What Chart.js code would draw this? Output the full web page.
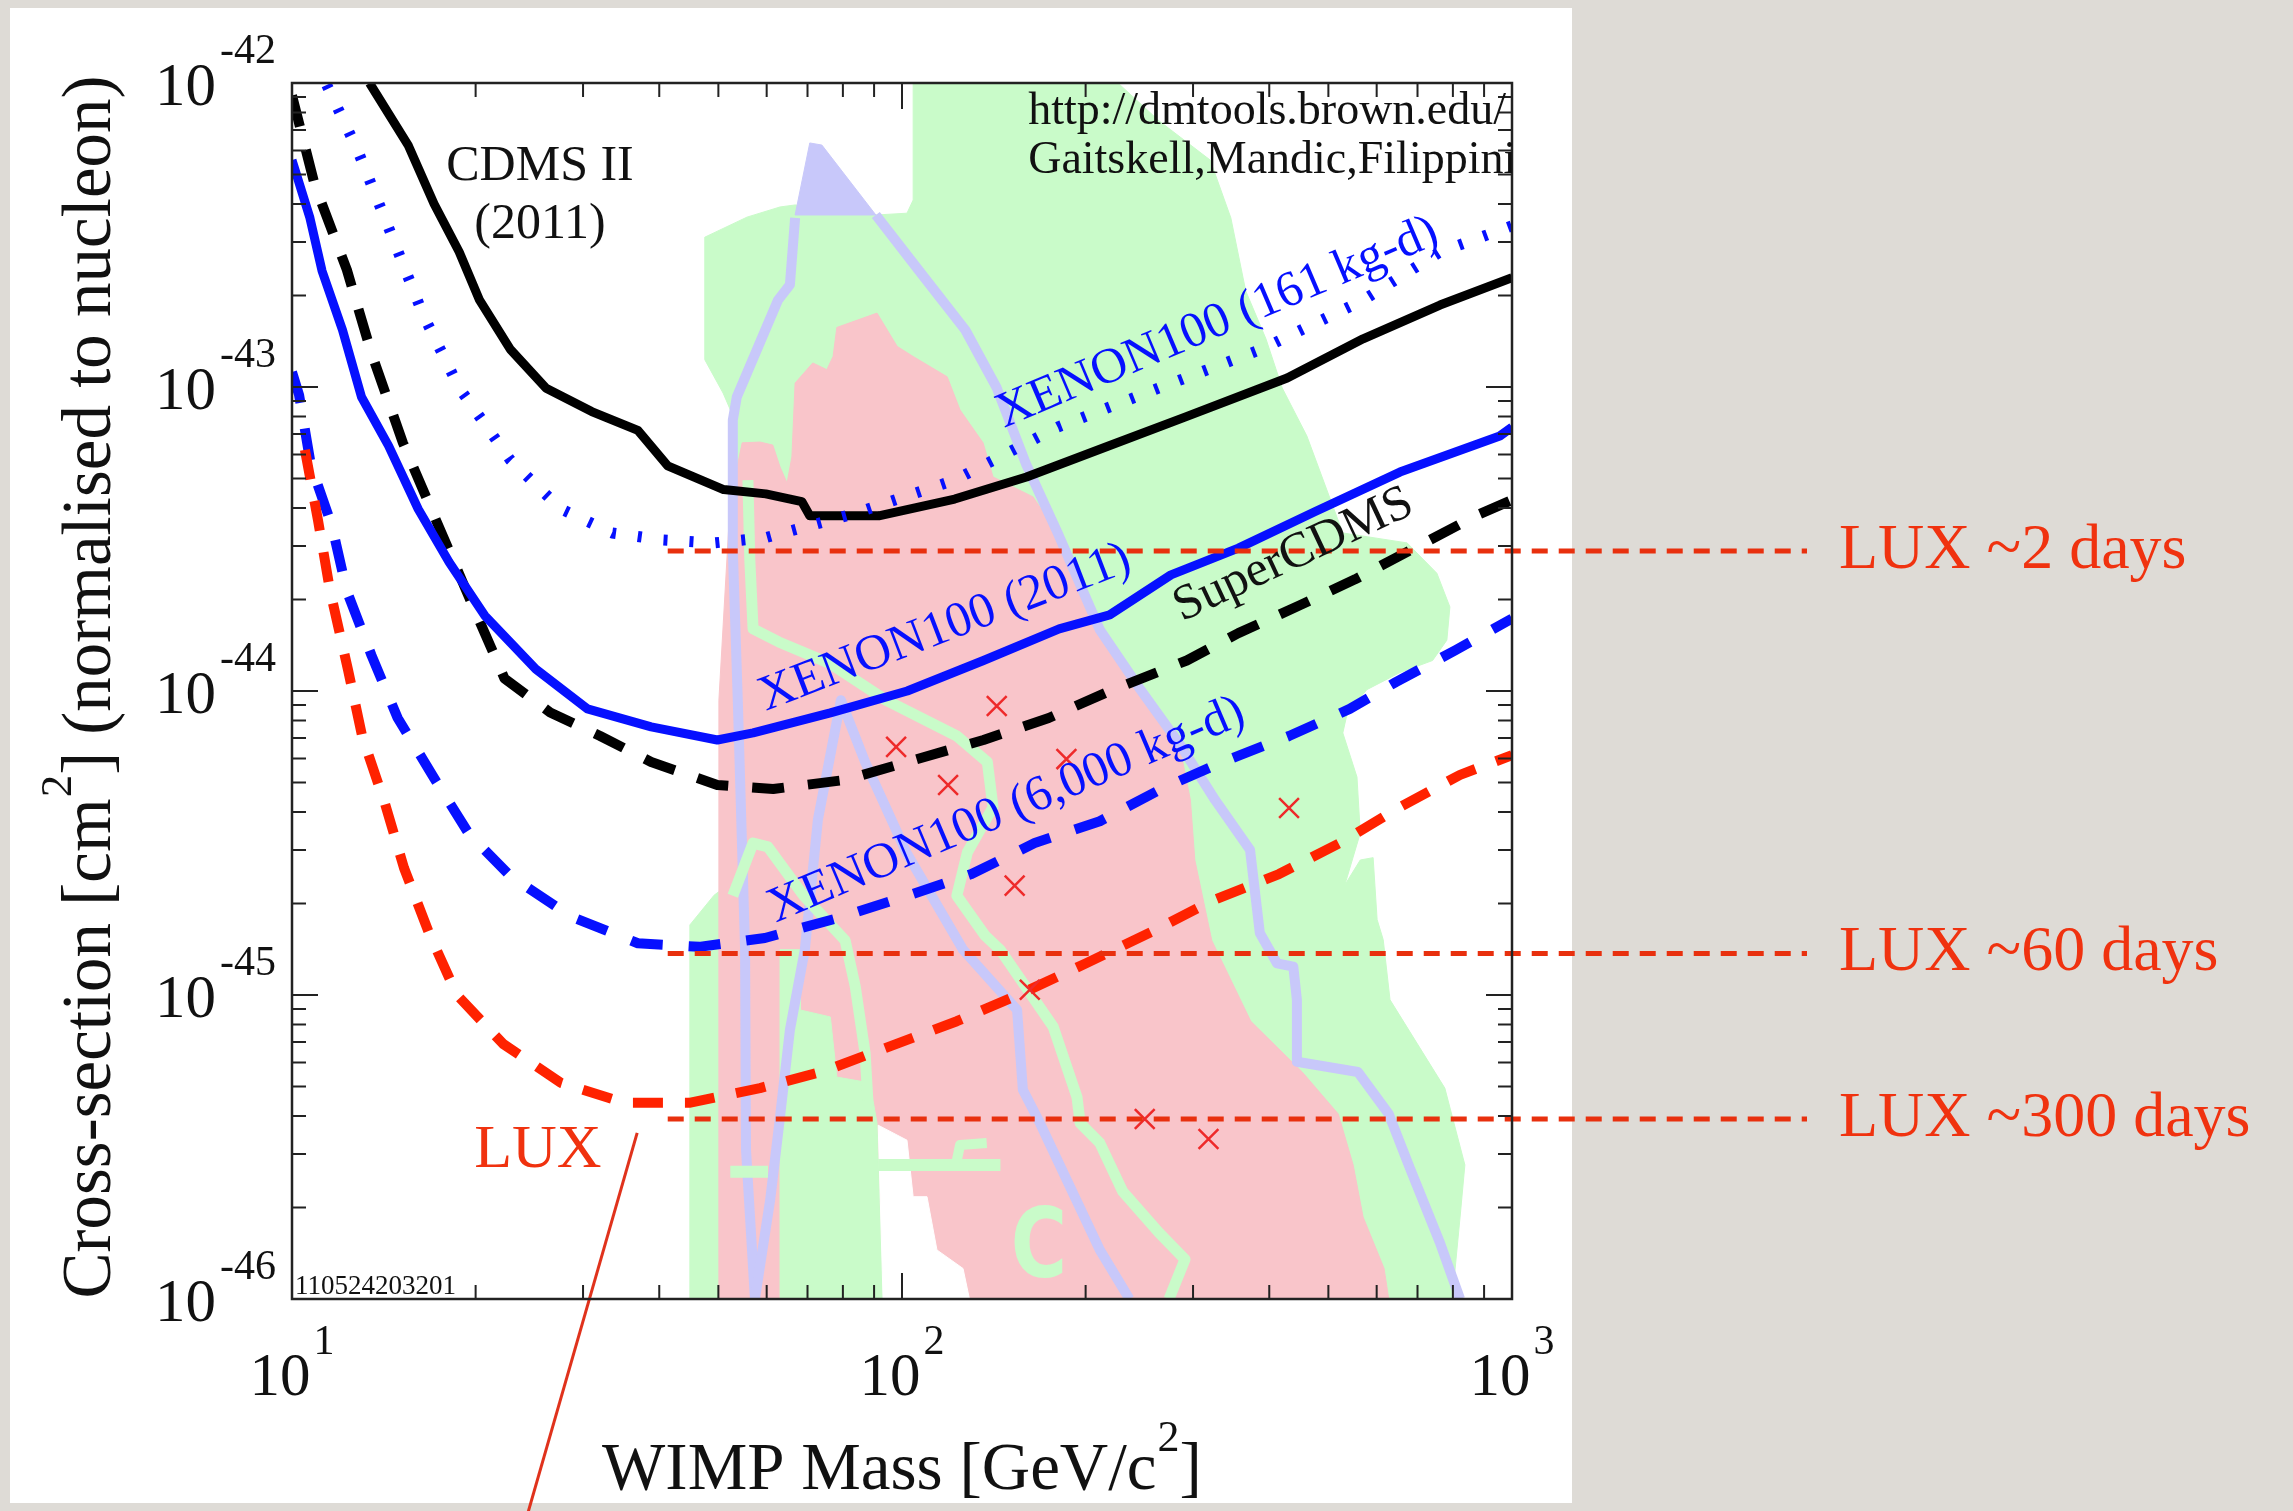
<!DOCTYPE html>
<html>
<head>
<meta charset="utf-8">
<title>WIMP limits</title>
<script src="https://cdn.jsdelivr.net/npm/chart.js@4.4.1/dist/chart.umd.min.js"></script>
<style>
    html, body {margin: 0; padding: 0; background: #dedbd6;}
    canvas {display: block;}
</style>
</head>
<body>
<canvas id="limits" width="2293" height="1511"></canvas>
<script>
// masses in GeV/c^2, cross-sections in cm^2

// CDMS II (2011) - black solid
var cdmsMass = [13.4, 15.5, 17.1, 18.8, 20.3, 22.8, 26.1, 31.0, 36.9, 41.3, 51.0, 59.8, 68.5, 70.6, 91.6, 122, 160, 218, 291, 428, 570, 762, 1000];
var cdmsSigma = [1e-42, 6.25e-43, 4.0e-43, 2.78e-43, 1.93e-43, 1.33e-43, 9.9e-44, 8.3e-44, 7.2e-44, 5.5e-44, 4.6e-44, 4.45e-44, 4.2e-44, 3.77e-44, 3.77e-44, 4.28e-44, 5.06e-44, 6.4e-44, 7.96e-44, 1.07e-43, 1.44e-43, 1.86e-43, 2.29e-43];

// XENON100 (161 kg-d) - blue dotted
var x161Mass = [11.4, 12.8, 14.4, 16.4, 18.8, 22.8, 27.6, 33.5, 40.6, 49.2, 59.6, 83.1, 122, 180, 264, 388, 570, 762, 1000];
var x161Sigma = [9.85e-43, 6.03e-43, 3.34e-43, 1.73e-43, 9.93e-44, 5.75e-44, 3.97e-44, 3.31e-44, 3.14e-44, 3.07e-44, 3.19e-44, 3.82e-44, 4.94e-44, 7.38e-44, 9.93e-44, 1.33e-43, 1.93e-43, 2.78e-43, 3.39e-43];

// SuperCDMS - black dashed
var scdmsMass = [10, 10.9, 12.3, 13.5, 15.2, 17.1, 19.5, 22.3, 26.5, 32.0, 38.8, 49.8, 61.5, 80.8, 102, 136, 174, 219, 293, 356, 448, 553, 877, 1000];
var scdmsSigma = [9.1e-43, 4.61e-43, 2.43e-43, 1.29e-43, 6.55e-44, 3.77e-44, 2.04e-44, 1.1e-44, 8.5e-45, 7.11e-45, 5.84e-45, 4.91e-45, 4.76e-45, 5.1e-45, 5.84e-45, 6.9e-45, 8.15e-45, 1.0e-44, 1.26e-44, 1.55e-44, 1.91e-44, 2.33e-44, 3.79e-44, 4.25e-44];

// XENON100 (2011) - blue solid
var x2011Mass = [10, 10.7, 11.2, 12.1, 13.0, 14.4, 16.1, 18.1, 20.7, 25.1, 30.5, 38.8, 49.8, 57.0, 76.3, 102, 136, 181, 219, 276, 356, 474, 655, 955, 1000];
var x2011Sigma = [5.58e-43, 3.6e-43, 2.41e-43, 1.54e-43, 9.27e-44, 6.4e-44, 3.97e-44, 2.65e-44, 1.77e-44, 1.18e-44, 8.73e-45, 7.62e-45, 6.9e-45, 7.28e-45, 8.47e-45, 1.0e-44, 1.26e-44, 1.6e-44, 1.78e-44, 2.41e-44, 2.95e-44, 3.88e-44, 5.25e-44, 6.9e-44, 7.38e-44];

// XENON100 (6,000 kg-d) - blue dashed
var x6000Mass = [10, 10.27, 10.74, 11.63, 12.3, 13.5, 14.9, 17.1, 19.5, 22.8, 28.7, 36.9, 46.5, 59.6, 77.6, 102, 130, 165, 211, 266, 335, 431, 542, 645, 807, 1000];
var x6000Sigma = [1.12e-43, 9.42e-44, 5.53e-44, 3.49e-44, 2.13e-44, 1.31e-44, 8.15e-45, 5.17e-45, 3.39e-45, 2.46e-45, 1.81e-45, 1.48e-45, 1.44e-45, 1.54e-45, 1.78e-45, 2.12e-45, 2.50e-45, 3.16e-45, 3.73e-45, 4.76e-45, 5.84e-45, 7.11e-45, 8.73e-45, 1.07e-44, 1.36e-44, 1.73e-44];

// LUX projection - red dashed
var luxMass = [10.5, 11.03, 11.54, 12.36, 13.03, 14.21, 15.26, 16.77, 18.64, 22.2, 27.6, 35.1, 44.8, 58.5, 74.5, 94.1, 123, 155, 200, 256, 322, 415, 522, 655, 822, 1000];
var luxSigma = [6.21e-44, 3.65e-44, 2.15e-44, 1.17e-44, 7.11e-45, 4.25e-45, 2.62e-45, 1.60e-45, 1.0e-45, 6.9e-46, 5.14e-46, 4.42e-46, 4.42e-46, 4.94e-46, 5.62e-46, 6.7e-46, 8.2e-46, 1.0e-45, 1.27e-45, 1.61e-45, 2.04e-45, 2.50e-45, 3.16e-45, 4.15e-45, 5.30e-45, 6.15e-45];

// model points (red crosses)
var modelMass = [143, 97.8, 119, 186, 153, 162, 431, 250, 318];
var modelSigma = [8.93e-45, 6.55e-45, 4.91e-45, 5.97e-45, 2.29e-45, 1.04e-45, 4.12e-45, 3.91e-46, 3.36e-46];

// LUX exposure levels
var luxLevelSigma = [2.89e-44, 1.37e-45, 3.91e-46];
var luxLevelText = ['LUX ~2 days', 'LUX ~60 days', 'LUX ~300 days'];
var luxLevelMass = [41.3, 3045];

// pointer under the LUX label
var pointerMass = [36.8, 24.4];
var pointerSigma = [3.52e-46, 2.0e-47];

// theory regions
var greenMass = [44.9, 44.9, 49.2, 53.2, 53.2, 50.9, 47.5, 47.5, 55.7, 63.1, 66.8, 91.0, 101.9, 104.3, 104.3, 226, 264, 320, 346, 366, 395, 420, 461, 528, 673, 753, 791, 782, 741, 655, 578, 537, 528, 557, 564, 532, 564, 592, 601, 615, 631, 776, 837, 822, 798];
var greenSigma = [1e-46, 1.70e-45, 2.13e-45, 2.39e-45, 7.78e-44, 9.55e-44, 1.23e-43, 3.11e-43, 3.62e-43, 3.91e-43, 3.97e-43, 3.68e-43, 3.73e-43, 4.12e-43, 1e-42, 1e-42, 7.5e-43, 5.58e-43, 3.6e-43, 2.07e-43, 1.44e-43, 9.93e-44, 6.9e-44, 3.31e-44, 3.07e-44, 2.44e-44, 1.89e-44, 1.47e-44, 1.26e-44, 1.15e-44, 1.01e-44, 8.47e-45, 7.28e-45, 5.21e-45, 3.41e-45, 2.30e-45, 2.78e-45, 2.83e-45, 1.77e-45, 1.52e-45, 9.64e-46, 4.94e-46, 2.76e-46, 1.86e-46, 1e-46];

var pinkMass = [50.1, 50.1, 52.3, 54.7, 58.5, 61.4, 63.1, 64.8, 66.0, 66.8, 71.4, 75.3, 77.1, 78.2, 91.0, 98.2, 104.3, 118.6, 124.5, 135.8, 141, 164, 177, 186, 200, 228, 255, 286, 297, 302, 322, 373, 453, 519, 549, 570, 617, 628];
var pinkSigma = [1e-46, 9.33e-45, 4.25e-44, 6.55e-44, 6.59e-44, 6.44e-44, 5.46e-44, 4.83e-44, 5.89e-44, 1.03e-43, 1.20e-43, 1.14e-43, 1.26e-43, 1.57e-43, 1.75e-43, 1.36e-43, 1.26e-43, 1.08e-43, 8.4e-44, 6.55e-44, 5.06e-44, 4.35e-44, 3.46e-44, 2.91e-44, 1.85e-44, 1.26e-44, 9.0e-45, 6.4e-45, 4.38e-45, 2.78e-45, 1.51e-45, 8.2e-46, 5.58e-46, 4.06e-46, 2.76e-46, 1.86e-46, 1.26e-46, 1e-46];

var green2Mass = [63.1, 63.1, 68.1, 68.1, 76.3, 78.2, 88.6, 91.0, 93.1];
var green2Sigma = [1e-46, 1.41e-45, 1.41e-45, 8.93e-46, 8.47e-46, 5.37e-46, 5.14e-46, 3.79e-46, 1e-46];

var holeMass = [91.4, 101.9, 104.3, 109.9, 114.1, 125.9, 129, 93.1];
var holeSigma = [3.73e-46, 3.33e-46, 2.17e-46, 2.17e-46, 1.45e-46, 1.26e-46, 1e-46, 1e-46];

var spikeMass = [66.8, 70.6, 73.9, 90.6];
var spikeSigma = [3.68e-43, 6.35e-43, 6.25e-43, 3.68e-43];

var lavAMass = [66.8, 65.5, 62.6, 53.6, 52.8, 52.8, 53.8, 55.3, 55.5, 57.4];
var lavASigma = [3.6e-43, 2.17e-43, 1.93e-43, 9.27e-44, 7.78e-44, 2.91e-44, 9.33e-45, 1.41e-45, 3.09e-46, 1e-46];

var lavVMass = [57.4, 60.8, 63.1, 65.5, 69.3, 72.8, 79.4, 87.0, 101.6, 125.9, 154.4, 157.8, 168.3, 211, 236];
var lavVSigma = [1e-46, 2.12e-46, 3.97e-46, 7.67e-46, 1.41e-45, 3.77e-45, 9.33e-45, 5.84e-45, 2.95e-45, 1.41e-45, 8.93e-46, 4.88e-46, 3.79e-46, 1.45e-46, 1e-46];

var lavBMass = [90.6, 106.7, 127, 143, 160, 180, 211, 246, 286, 326, 372, 386, 412, 438, 444, 444, 559, 628, 677, 762, 822];
var lavBSigma = [3.68e-43, 2.41e-43, 1.54e-43, 9.93e-44, 5.53e-44, 3.31e-44, 1.59e-44, 1.01e-44, 6.64e-45, 4.38e-45, 3.0e-45, 1.60e-45, 1.27e-45, 1.24e-45, 9.64e-46, 6.03e-46, 5.58e-46, 4.06e-46, 2.76e-46, 1.53e-46, 1e-46];

var contAMass = [55.9, 56.3, 57.0, 62.8, 76.3, 94.1, 123, 138, 141, 128, 123, 136.8, 144.8, 177, 193.6, 195.9, 211, 230, 264, 291, 274];
var contASigma = [4.94e-44, 2.70e-44, 1.60e-44, 1.45e-44, 1.23e-44, 9.33e-45, 7.11e-45, 5.84e-45, 4.15e-45, 2.95e-45, 2.12e-45, 1.57e-45, 1.41e-45, 7.85e-46, 4.61e-46, 3.79e-46, 3.26e-46, 2.26e-46, 1.65e-46, 1.35e-46, 1e-46];

var contBMass = [52.8, 57.0, 60.3, 69.0, 80.7, 83.8, 87.0, 87.9];
var contBSigma = [2.12e-45, 3.16e-45, 3.07e-45, 2.12e-45, 1.51e-45, 1.07e-45, 6.44e-46, 4.52e-46];

var barMass = [91.4, 145];
var barSigma = [2.76e-46, 2.76e-46];
var hookMass = [123, 124.5, 137.7];
var hookSigma = [2.86e-46, 3.21e-46, 3.26e-46];
var dashMass = [52.3, 60.3];
var dashSigma = [2.62e-46, 2.62e-46];

// axis ticks
var massTicks = [10, 100, 1000];
var massTickExp = ['1', '2', '3'];
var sigmaTicks = [1e-46, 1e-45, 1e-44, 1e-43, 1e-42];
var sigmaTickExp = ['-46', '-45', '-44', '-43', '-42'];

// text notes anchored in data space
var noteText = ['CDMS II', '(2011)', 'http://dmtools.brown.edu/', 'Gaitskell,Mandic,Filippini', 'LUX'];
var noteMass = [25.5, 25.5, 161, 161, 25.3];
var noteSigma = [4.8e-43, 3.09e-43, 7.33e-43, 5.06e-43, 2.72e-46];

var curveText = ['XENON100 (161 kg-d)', 'XENON100 (2011)', 'SuperCDMS', 'XENON100 (6,000 kg-d)'];
var curveTextMass = [146.9, 59.8, 287.7, 62.1];
var curveTextSigma = [7.33e-44, 8.6e-45, 1.69e-44, 1.73e-45];
var curveTextAngle = [-23, -21, -25, -23];

var glyphText = ['C'];
var glyphMass = [167.7];
var glyphSigma = [1.43e-46];

var serif = '"Liberation Serif", "Times New Roman", serif';
var RED = '#f0320f';
var BLUE = '#0610ff';
var LAV = '#c8c8fa';
var GRN = '#c9fbc9';

function pts(m, s) {
    return m.map(function (v, i) { return {x: v, y: s[i]}; });
}

function area(label, m, s, color, order) {
    var p = pts(m, s);
    p.push(p[0]);
    return {label: label, data: p, showLine: true, fill: 'shape', backgroundColor: color,
        borderColor: color, borderWidth: 1, pointRadius: 0, tension: 0, order: order};
}

function line(label, m, s, color, width, dash, order) {
    return {label: label, data: pts(m, s), showLine: true, fill: false, borderColor: color,
        borderWidth: width, borderDash: dash, pointRadius: 0, tension: 0,
        borderJoinStyle: 'round', order: order};
}

function drawParts(ctx, parts, x, y, align, bigPx, smallPx, raise, gap) {
    var w = 0;
    parts.forEach(function (p) {
        ctx.font = (p[1] ? smallPx : bigPx) + 'px ' + serif;
        w += ctx.measureText(p[0]).width + (p[1] ? gap : 0);
    });
    var cx = align === 'center' ? x - w / 2 : (align === 'right' ? x - w : x);
    ctx.textAlign = 'left';
    parts.forEach(function (p) {
        ctx.font = (p[1] ? smallPx : bigPx) + 'px ' + serif;
        if (p[1]) cx += gap;
        ctx.fillText(p[0], cx, p[1] ? y - raise : y);
        cx += ctx.measureText(p[0]).width;
    });
}

var decor = {
    id: 'decor',
    beforeDraw: function (chart) {
        var ctx = chart.ctx, a = chart.chartArea;
        ctx.save();
        ctx.fillStyle = '#ffffff';
        ctx.fillRect(a.left - 282, a.top - 75, a.right - a.left + 342, a.bottom - a.top + 279);
        ctx.restore();
    },
    afterDatasetDraw: function (chart, args) {
        if (chart.data.datasets[args.index].label !== 'contour B') return;
        var ctx = chart.ctx, xs = chart.scales.x, ys = chart.scales.y;
        ctx.save();
        ctx.fillStyle = GRN;
        ctx.font = 'bold 96px "DejaVu Sans"';
        ctx.textAlign = 'center';
        ctx.textBaseline = 'middle';
        glyphText.forEach(function (t, i) {
            ctx.save();
            ctx.translate(xs.getPixelForValue(glyphMass[i]), ys.getPixelForValue(glyphSigma[i]));
            ctx.scale(0.8, 1);
            ctx.fillText(t, 0, 0);
            ctx.restore();
        });
        ctx.restore();
    },
    afterDatasetsDraw: function (chart) {
        var ctx = chart.ctx, a = chart.chartArea, xs = chart.scales.x, ys = chart.scales.y;
        ctx.save();

        // frame and inward ticks on all four sides
        ctx.strokeStyle = '#222';
        ctx.lineWidth = 2.5;
        ctx.strokeRect(a.left, a.top, a.right - a.left, a.bottom - a.top);
        ctx.lineWidth = 2;
        ctx.beginPath();
        massTicks.forEach(function (d) {
            for (var k = 1; k <= 9; k++) {
                var v = d * k;
                if (v > xs.max * 1.0001) break;
                var px = xs.getPixelForValue(v), len = k === 1 ? 26 : 14;
                ctx.moveTo(px, a.bottom); ctx.lineTo(px, a.bottom - len);
                ctx.moveTo(px, a.top); ctx.lineTo(px, a.top + len);
            }
        });
        sigmaTicks.forEach(function (d) {
            for (var k = 1; k <= 9; k++) {
                var v = d * k;
                if (v > ys.max * 1.0001) break;
                var py = ys.getPixelForValue(v), len = k === 1 ? 26 : 14;
                ctx.moveTo(a.left, py); ctx.lineTo(a.left + len, py);
                ctx.moveTo(a.right, py); ctx.lineTo(a.right - len, py);
            }
        });
        ctx.stroke();

        // tick labels
        ctx.fillStyle = '#111';
        ctx.textBaseline = 'alphabetic';
        massTicks.forEach(function (v, i) {
            drawParts(ctx, [['10', false], [massTickExp[i], true]], xs.getPixelForValue(v), a.bottom + 96, 'center', 61, 42, 41, 3);
        });
        sigmaTicks.forEach(function (v, i) {
            drawParts(ctx, [['10', false], [sigmaTickExp[i], true]], a.left - 16, ys.getPixelForValue(v) + 22, 'right', 61, 42, 42, 4);
        });

        // axis titles
        drawParts(ctx, [['WIMP Mass [GeV/c', false], ['2', true], [']', false]], (a.left + a.right) / 2, a.bottom + 190, 'center', 67, 44, 38, 1);
        ctx.save();
        ctx.translate(a.left - 182, (a.top + a.bottom) / 2 - 4);
        ctx.rotate(-Math.PI / 2);
        drawParts(ctx, [['Cross-section [cm', false], ['2', true], ['] (normalised to nucleon)', false]], 0, 0, 'center', 69, 45, 39, 1);
        ctx.restore();

        // notes inside the plot
        ctx.save();
        ctx.beginPath();
        ctx.rect(a.left, a.top, a.right - a.left, a.bottom - a.top);
        ctx.clip();
        ctx.fillStyle = '#111';
        ctx.font = '50px ' + serif;
        ctx.textAlign = 'center';
        ctx.fillText(noteText[0], xs.getPixelForValue(noteMass[0]), ys.getPixelForValue(noteSigma[0]));
        ctx.fillText(noteText[1], xs.getPixelForValue(noteMass[1]), ys.getPixelForValue(noteSigma[1]));
        ctx.font = '46px ' + serif;
        ctx.textAlign = 'left';
        ctx.fillText(noteText[2], xs.getPixelForValue(noteMass[2]), ys.getPixelForValue(noteSigma[2]));
        ctx.fillText(noteText[3], xs.getPixelForValue(noteMass[3]), ys.getPixelForValue(noteSigma[3]));
        ctx.fillStyle = RED;
        ctx.font = '62px ' + serif;
        ctx.textAlign = 'center';
        ctx.fillText(noteText[4], xs.getPixelForValue(noteMass[4]), ys.getPixelForValue(noteSigma[4]));
        ctx.fillStyle = '#111';
        ctx.font = '27px ' + serif;
        ctx.textAlign = 'left';
        ctx.fillText('110524203201', a.left + 3, a.bottom - 5);
        ctx.restore();

        // labels along the curves
        ctx.font = '50px ' + serif;
        ctx.textAlign = 'left';
        curveText.forEach(function (t, i) {
            ctx.save();
            ctx.translate(xs.getPixelForValue(curveTextMass[i]), ys.getPixelForValue(curveTextSigma[i]));
            ctx.rotate(curveTextAngle[i] * Math.PI / 180);
            ctx.fillStyle = t === 'SuperCDMS' ? '#111' : BLUE;
            ctx.fillText(t, 0, 0);
            ctx.restore();
        });

        // LUX exposure labels right of the plot
        ctx.fillStyle = RED;
        ctx.font = '64px ' + serif;
        luxLevelText.forEach(function (t, i) {
            ctx.fillText(t, xs.getPixelForValue(luxLevelMass[1]) + 32, ys.getPixelForValue(luxLevelSigma[i]) + 17);
        });
        ctx.restore();
    }
};

var datasets = [
    area('green region', greenMass, greenSigma, GRN, 30),
    area('pink region', pinkMass, pinkSigma, '#f9c5ca', 29),
    area('green patch', green2Mass, green2Sigma, GRN, 28),
    area('gap', holeMass, holeSigma, '#ffffff', 27),
    area('spike', spikeMass, spikeSigma, LAV, 26),
    line('lavender A', lavAMass, lavASigma, LAV, 10, [], 25),
    line('lavender V', lavVMass, lavVSigma, LAV, 10, [], 24),
    line('lavender B', lavBMass, lavBSigma, LAV, 10, [], 23),
    line('contour A', contAMass, contASigma, GRN, 11, [], 22),
    line('contour bar', barMass, barSigma, GRN, 12, [], 21),
    line('contour hook', hookMass, hookSigma, GRN, 10, [], 21),
    line('contour dash', dashMass, dashSigma, GRN, 12, [], 21),
    line('contour B', contBMass, contBSigma, GRN, 11, [], 20),
    line('CDMS II (2011)', cdmsMass, cdmsSigma, '#000000', 9, [], 12),
    line('XENON100 (161 kg-d)', x161Mass, x161Sigma, BLUE, 11, [4, 22], 11),
    line('SuperCDMS', scdmsMass, scdmsSigma, '#000000', 10, [32, 24], 10),
    line('XENON100 (2011)', x2011Mass, x2011Sigma, BLUE, 9, [], 9),
    line('XENON100 (6,000 kg-d)', x6000Mass, x6000Sigma, BLUE, 10, [32, 26], 8),
    line('LUX', luxMass, luxSigma, '#ff2200', 10, [30, 22], 7),
    {
        label: 'models', data: pts(modelMass, modelSigma), pointStyle: 'crossRot', pointRadius: 14,
        borderColor: '#ee2a2a', borderWidth: 2.5, order: 3
    }
];
luxLevelSigma.forEach(function (s, i) {
    var d = line(luxLevelText[i], luxLevelMass, [s, s], '#e8300e', 5, [16, 11], 1);
    d.clip = false;
    datasets.push(d);
});
var pointer = line('pointer', pointerMass, pointerSigma, '#e0321c', 3, [], 1);
pointer.clip = false;
datasets.push(pointer);

new Chart(document.getElementById('limits'), {
    type: 'scatter',
    data: {datasets: datasets},
    options: {
        responsive: false,
        animation: false,
        events: [],
        layout: {padding: {left: 292, top: 83, right: 781, bottom: 212}},
        plugins: {legend: {display: false}, tooltip: {enabled: false}},
        scales: {
            x: {type: 'logarithmic', min: 10, max: 1000, display: false},
            y: {type: 'logarithmic', min: 1e-46, max: 1e-42, display: false}
        }
    },
    plugins: [decor]
});
</script>
</body>
</html>
